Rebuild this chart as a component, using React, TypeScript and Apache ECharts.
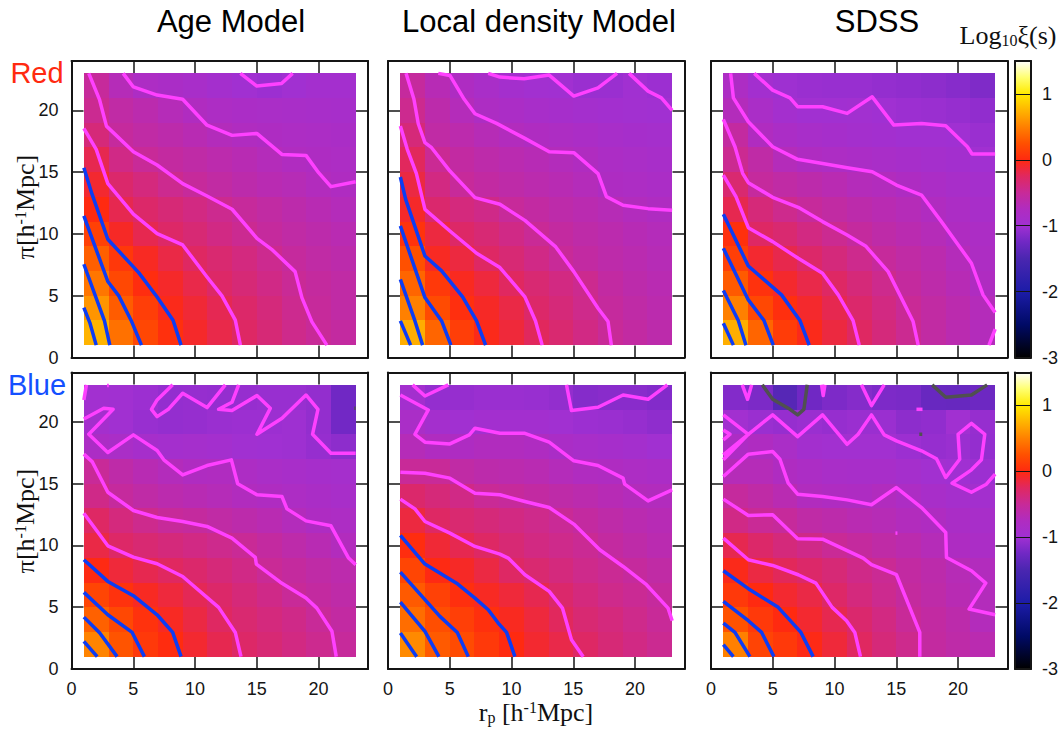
import React, { useEffect, useRef } from "react";
import * as echarts from "echarts";

type Pt = [number, number];

const axisTicks = [0, 5, 10, 15, 20];
const barTicks = [-3, -2, -1, 0, 1];
const panelTitles = ["Age Model", "Local density Model", "SDSS"];
const rowLabels = ["Red", "Blue"];

// Estimated log10 xi per 2x2 cell; rows run from pi=1-3 upward, columns from rp=1-3 rightward.
const ageRedCells = [
  [0.75, 0.42, 0.19, 0.04, -0.08, -0.18, -0.27, -0.35, -0.44, -0.5, -0.55],
  [0.6, 0.31, 0.13, -0.03, -0.12, -0.21, -0.29, -0.37, -0.46, -0.52, -0.58],
  [0.45, 0.2, 0.02, -0.08, -0.18, -0.28, -0.35, -0.42, -0.49, -0.54, -0.58],
  [0.33, 0.09, -0.06, -0.17, -0.26, -0.32, -0.39, -0.46, -0.53, -0.58, -0.62],
  [0.15, -0.07, -0.2, -0.28, -0.34, -0.41, -0.47, -0.53, -0.58, -0.62, -0.66],
  [0, -0.2, -0.29, -0.35, -0.4, -0.46, -0.52, -0.57, -0.62, -0.67, -0.71],
  [-0.1, -0.3, -0.38, -0.46, -0.52, -0.57, -0.62, -0.66, -0.69, -0.73, -0.76],
  [-0.2, -0.42, -0.5, -0.55, -0.59, -0.63, -0.67, -0.71, -0.75, -0.78, -0.8],
  [-0.36, -0.53, -0.58, -0.62, -0.67, -0.72, -0.75, -0.78, -0.8, -0.82, -0.84],
  [-0.47, -0.58, -0.64, -0.7, -0.75, -0.8, -0.83, -0.85, -0.86, -0.87, -0.89],
  [-0.52, -0.7, -0.8, -0.84, -0.87, -0.93, -0.98, -1.02, -0.98, -0.94, -0.94],
];
const densityRedCells = [
  [0.72, 0.36, 0.13, -0.03, -0.13, -0.24, -0.32, -0.41, -0.5, -0.56, -0.62],
  [0.5, 0.22, 0.03, -0.07, -0.17, -0.29, -0.36, -0.44, -0.53, -0.59, -0.64],
  [0.36, 0.1, -0.05, -0.14, -0.25, -0.33, -0.4, -0.46, -0.56, -0.62, -0.66],
  [0.25, -0.06, -0.15, -0.27, -0.34, -0.42, -0.5, -0.56, -0.61, -0.65, -0.69],
  [0.06, -0.15, -0.28, -0.34, -0.42, -0.49, -0.55, -0.6, -0.64, -0.68, -0.71],
  [-0.08, -0.31, -0.38, -0.43, -0.51, -0.56, -0.61, -0.65, -0.69, -0.73, -0.76],
  [-0.16, -0.4, -0.51, -0.56, -0.6, -0.64, -0.67, -0.71, -0.78, -0.8, -0.83],
  [-0.24, -0.48, -0.56, -0.61, -0.65, -0.68, -0.72, -0.75, -0.82, -0.85, -0.87],
  [-0.36, -0.58, -0.63, -0.69, -0.73, -0.76, -0.79, -0.83, -0.87, -0.9, -0.92],
  [-0.46, -0.62, -0.71, -0.79, -0.83, -0.87, -0.9, -0.93, -0.96, -0.97, -0.99],
  [-0.53, -0.68, -0.78, -0.86, -0.93, -0.97, -0.98, -1.03, -1.03, -0.98, -1.02],
];
const sdssRedCells = [
  [0.72, 0.36, 0.12, -0.03, -0.15, -0.26, -0.37, -0.47, -0.57, -0.65, -0.72],
  [0.5, 0.2, 0.03, -0.09, -0.2, -0.3, -0.4, -0.49, -0.57, -0.64, -0.71],
  [0.3, 0.05, -0.09, -0.18, -0.27, -0.36, -0.45, -0.54, -0.61, -0.68, -0.76],
  [0.14, -0.1, -0.19, -0.29, -0.37, -0.45, -0.52, -0.58, -0.64, -0.71, -0.79],
  [0.04, -0.27, -0.32, -0.4, -0.47, -0.54, -0.6, -0.65, -0.7, -0.76, -0.82],
  [-0.2, -0.36, -0.45, -0.52, -0.57, -0.62, -0.66, -0.7, -0.75, -0.82, -0.87],
  [-0.32, -0.53, -0.58, -0.62, -0.66, -0.71, -0.73, -0.78, -0.83, -0.88, -0.92],
  [-0.47, -0.59, -0.71, -0.77, -0.8, -0.83, -0.86, -0.89, -0.92, -0.95, -0.98],
  [-0.55, -0.75, -0.83, -0.87, -0.9, -0.93, -0.96, -0.98, -0.98, -1, -1.03],
  [-0.72, -0.85, -0.94, -0.98, -0.99, -0.97, -1, -1.02, -1.03, -1.05, -1.08],
  [-0.8, -0.96, -1.01, -1.03, -1.04, -1.04, -1.06, -1.08, -1.1, -1.13, -1.17],
];
const ageBlueCells = [
  [0.52, 0.27, 0.1, 0.01, -0.1, -0.2, -0.28, -0.34, -0.4, -0.46, -0.52],
  [0.34, 0.2, 0.05, -0.06, -0.16, -0.26, -0.32, -0.38, -0.43, -0.5, -0.56],
  [0.18, 0.05, -0.06, -0.14, -0.22, -0.29, -0.36, -0.43, -0.5, -0.55, -0.6],
  [-0.01, -0.13, -0.2, -0.25, -0.3, -0.36, -0.42, -0.49, -0.54, -0.59, -0.63],
  [-0.17, -0.28, -0.33, -0.37, -0.41, -0.45, -0.49, -0.55, -0.61, -0.67, -0.73],
  [-0.27, -0.38, -0.45, -0.51, -0.54, -0.58, -0.62, -0.66, -0.72, -0.78, -0.8],
  [-0.43, -0.53, -0.59, -0.64, -0.67, -0.7, -0.74, -0.76, -0.8, -0.84, -0.87],
  [-0.5, -0.6, -0.67, -0.72, -0.76, -0.75, -0.8, -0.85, -0.88, -0.9, -0.92],
  [-0.82, -0.85, -0.9, -0.93, -0.92, -0.94, -0.98, -1, -1.01, -1.05, -1.1],
  [-0.93, -0.98, -1.04, -1.06, -1.05, -1.03, -1.02, -1.02, -1.01, -1.07, -1.24],
  [-0.97, -0.99, -1.02, -1.06, -1.05, -1.06, -1.05, -1.04, -1.04, -1.07, -1.25],
];
const densityBlueCells = [
  [0.55, 0.3, 0.22, 0.1, 0, -0.1, -0.18, -0.27, -0.35, -0.41, -0.47],
  [0.4, 0.24, 0.14, 0.04, -0.05, -0.14, -0.24, -0.33, -0.38, -0.44, -0.5],
  [0.3, 0.15, 0.03, -0.06, -0.13, -0.2, -0.3, -0.38, -0.44, -0.48, -0.53],
  [0.18, -0.01, -0.07, -0.16, -0.27, -0.32, -0.38, -0.44, -0.48, -0.53, -0.58],
  [0.02, -0.12, -0.2, -0.27, -0.34, -0.4, -0.44, -0.48, -0.55, -0.6, -0.65],
  [-0.15, -0.27, -0.32, -0.36, -0.4, -0.44, -0.49, -0.55, -0.6, -0.65, -0.68],
  [-0.3, -0.36, -0.42, -0.49, -0.52, -0.56, -0.6, -0.64, -0.68, -0.72, -0.73],
  [-0.5, -0.5, -0.58, -0.62, -0.64, -0.66, -0.71, -0.75, -0.76, -0.8, -0.83],
  [-0.7, -0.75, -0.78, -0.74, -0.74, -0.76, -0.84, -0.88, -0.9, -0.93, -0.98],
  [-0.85, -0.93, -0.98, -0.96, -0.96, -0.96, -0.98, -1.02, -1.03, -1.05, -1.09],
  [-0.95, -1.06, -1.05, -1.03, -1.03, -1.04, -1.07, -1.14, -1.12, -1.12, -1.15],
];
const sdssBlueCells = [
  [0.5, 0.17, 0.1, -0.02, -0.13, -0.25, -0.36, -0.45, -0.55, -0.6, -0.65],
  [0.26, 0.1, 0, -0.1, -0.2, -0.31, -0.4, -0.5, -0.56, -0.62, -0.72],
  [0.1, 0, -0.1, -0.17, -0.28, -0.38, -0.46, -0.54, -0.6, -0.67, -0.72],
  [-0.03, -0.16, -0.23, -0.29, -0.35, -0.43, -0.48, -0.56, -0.62, -0.69, -0.73],
  [-0.2, -0.29, -0.37, -0.43, -0.49, -0.54, -0.59, -0.64, -0.7, -0.78, -0.83],
  [-0.42, -0.49, -0.52, -0.59, -0.62, -0.66, -0.69, -0.73, -0.77, -0.84, -0.88],
  [-0.53, -0.59, -0.66, -0.74, -0.76, -0.78, -0.74, -0.8, -0.88, -0.92, -0.95],
  [-0.7, -0.7, -0.76, -0.82, -0.86, -0.88, -0.87, -0.92, -0.97, -1, -1.02],
  [-0.8, -0.77, -0.85, -0.95, -0.97, -0.97, -0.97, -1.02, -1.05, -1.03, -1.06],
  [-0.97, -1.03, -1.05, -1.03, -1.05, -1.03, -1.03, -1.1, -1.08, -0.98, -1.05],
  [-1.15, -1.19, -1.42, -1.25, -1.18, -1.14, -1.18, -1.2, -1.3, -1.31, -1.27],
];

// Contour traces.
const ageRedBlue: Pt[][] = [
  [[1, 15.36], [1.67, 13.2], [2.94, 9.57], [5.44, 6.87], [6.93, 4.9], [8.22, 3.02], [8.87, 1]],
  [[1, 11.46], [2.94, 6.15], [3.83, 4.99], [4.82, 3.02], [5.66, 1]],
  [[1, 7.55], [2.67, 2.96], [3.1, 1]],
  [[1, 4.04], [1.48, 2.83], [2, 1]],
];
const ageRedPink: Pt[][] = [
  [[13.67, 23], [15, 21.97], [17, 22.18], [17.9, 23]],
  [[4.18, 23], [5.01, 21.9], [6.93, 21.24], [9, 20.9], [10.97, 18.8], [13, 17.98], [15, 18.14], [17.03, 16.44], [18.98, 16.36], [20, 14.96], [21, 13.83], [23, 14.23]],
  [[1.4, 23], [2.26, 20.9], [2.83, 18.73], [5.01, 16.66], [6.93, 15.58], [9, 14.07], [10.97, 13.07], [13, 12], [15.01, 9.65], [16.2, 8.76], [18.1, 6.95], [18.65, 4.85], [19.46, 2.88], [20.67, 1]],
  [[1, 18.54], [2, 16.85], [2.94, 14.07], [5.01, 11.6], [6.93, 10.03], [9, 9.11], [10.97, 6.52], [12.18, 4.99], [13.26, 3.02], [13.67, 1]],
];
const densityRedBlue: Pt[][] = [
  [[1, 14.61], [1.43, 12.8], [2.99, 8.22], [4.34, 7.01], [6.04, 4.91], [7.17, 2.96], [7.9, 1]],
  [[1, 10.65], [2.99, 4.85], [4.34, 2.96], [5.09, 1]],
  [[1, 6.33], [2.18, 2.96], [2.8, 1]],
  [[1, 2.96], [1.83, 1]],
];
const densityRedPink: Pt[][] = [
  [[8.11, 23], [9.06, 22.7], [11.02, 22.56], [13.05, 22.86], [15.04, 21.16], [17, 21.83], [18.54, 23]],
  [[19.51, 23], [21.05, 21.56], [22.13, 21.02], [23, 20]],
  [[4.07, 23], [5.01, 22.83], [6.17, 20.9], [7.04, 19.73], [8.79, 18.95], [11.08, 17.74], [13.05, 16.66], [15.04, 16.58], [17, 14.88], [17.68, 13.02], [19.03, 12.32], [21.05, 12.05], [23, 11.91]],
  [[1.46, 23], [2.1, 20.9], [2.45, 18.92], [2.99, 17.39], [3.53, 16.98], [5.01, 15.09], [7.04, 12.94], [9.06, 12.4], [11.08, 11.1], [13.58, 8.95], [15.04, 6.95], [17, 3.99], [17.81, 2.91], [18.08, 1]],
  [[1, 18.73], [1.56, 16.85], [2.3, 14.88], [2.99, 11.99], [5.01, 10.24], [7.17, 8.44], [9.06, 7.28], [11.08, 4.91], [11.94, 2.96], [12.48, 1]],
];
const sdssRedBlue: Pt[][] = [
  [[1, 11.59], [3.02, 7.41], [5.71, 5.07], [7.2, 2.99], [7.95, 1]],
  [[1, 8.84], [3.02, 4.66], [4.29, 2.99], [5.04, 1]],
  [[1, 5.42], [2.21, 2.99], [2.83, 1]],
  [[1, 2.78], [1.81, 1]],
];
const sdssRedPink: Pt[][] = [
  [[3.5, 23], [4.99, 21.64], [6.39, 21.02], [7.01, 20.3], [9.03, 20.3], [11.02, 19.76], [13.05, 21.1], [14.8, 18.81], [17.04, 18.95], [19, 18.76], [20.75, 17.06], [21.13, 16.47], [23, 16.47]],
  [[1.59, 23], [1.81, 21.02], [3.02, 19.08], [4.99, 17.06], [7.01, 16.04], [9.03, 15.71], [11.02, 15.36], [13.05, 15.04], [15.01, 13.96], [17.04, 13.15], [18.65, 11], [21.08, 7.63], [22.02, 5.07], [23, 3.64]],
  [[23, 2.29], [22.5, 1]],
  [[1, 19.27], [1.94, 17.06], [2.56, 14.91], [3.02, 14.15], [4.99, 12.97], [7.06, 12.16], [9.03, 11], [11.02, 9.92], [12.51, 9.03], [14.34, 6.95], [16.36, 2.91], [16.77, 1]],
  [[1, 14.77], [2.02, 13.02], [3.02, 10.51], [4.99, 9.38], [7.06, 8.03], [9.03, 6.82], [10.3, 5.07], [11.5, 2.99], [12, 1]],
];
const ageBlueBlue: Pt[][] = [
  [[1, 8.84], [2.94, 7.09], [5.01, 5.93], [6.93, 4.39], [8.19, 2.96], [8.87, 1]],
  [[1, 6.2], [2.94, 4.39], [4.91, 2.96], [5.9, 1]],
  [[1, 4.2], [2.29, 2.91], [3.69, 1]],
  [[1, 2.24], [2.08, 1]],
];
const ageBluePink: Pt[][] = [
  [[1.21, 23], [1, 21.78]],
  [[2.88, 22.95], [3.02, 22.95]],
  [[1, 20.24], [2.61, 21.1], [3.37, 21.02], [1.4, 19], [2.94, 17.52], [5.01, 18.95], [6.93, 17.68], [7.47, 16.93], [9, 15.71], [10.97, 16.47], [12.94, 16.93], [13.45, 14.99], [15.01, 14.1], [17.04, 13.96], [17.44, 12.96], [18.98, 11.99], [21, 11.59], [22.43, 8.98], [23, 8.44]],
  [[8.19, 23], [6.93, 21.78], [6.47, 21.02], [6.93, 20.43], [7.87, 21.05], [9, 22.32], [10.97, 21.16], [12.45, 23]],
  [[13.53, 23], [12.99, 21.59], [11.91, 21.02], [12.99, 20.92], [15.01, 22.13], [16.09, 21.1], [15.01, 19], [17.04, 20.3], [18.98, 22.18], [19.95, 21.02], [19.51, 19], [21, 17.47], [23, 17.47]],
  [[1, 17.39], [1.67, 16.79], [2.94, 14.31], [5.01, 12.83], [6.93, 12.26], [9, 11.94], [10.97, 11.54], [12.99, 10.59], [14.88, 9.03], [14.96, 8.49], [16.9, 7.03], [18.98, 5.74], [19.86, 4.93], [21.08, 3.05], [21.43, 1]],
  [[1, 12.61], [2.94, 9.97], [5.01, 9.06], [6.93, 8.52], [9, 7.49], [11.91, 4.99], [13.26, 2.96], [13.72, 1]],
];
const ageBlueGray: Pt[][] = [[[22.88, 21.1], [23, 21.1]]];
const densityBlueBlue: Pt[][] = [
  [[1, 10.81], [2.99, 8.49], [5.55, 6.95], [7.04, 5.74], [8.11, 4.8], [8.92, 3.72], [9.6, 2.96], [10.27, 1]],
  [[1, 7.84], [2.99, 5.61], [4.2, 4.26], [5.61, 2.96], [6.5, 1]],
  [[1, 5.42], [2.99, 3.05], [4.12, 1]],
  [[1, 2.91], [2.32, 1]],
];
const densityBluePink: Pt[][] = [
  [[1.99, 23], [2.99, 22.1], [4.88, 23]],
  [[1, 22.18], [3.26, 20.97], [2.18, 19], [2.99, 18.36], [5.01, 18.22], [6.58, 18.95], [7.04, 19.49], [9.06, 19.08], [11.08, 19.08], [13.05, 18.36], [15.04, 16.85], [17, 16.47], [19.03, 15.45], [19.16, 14.96], [21.05, 13.61], [23, 14.5]],
  [[14.45, 23], [14.85, 20.92], [17, 21.19], [19.03, 22.18], [21.05, 21.83], [22.61, 23]],
  [[1, 15.93], [2.99, 15.85], [5.01, 15.45], [7.04, 14.23], [9.06, 14.1], [11.08, 13.56], [13.05, 13.07], [15.04, 11.73], [17.14, 9.65], [19.03, 8.3], [20.92, 6.82], [22.67, 4.93], [23, 3.91]],
  [[1, 13.75], [2.18, 12.96], [2.99, 11.94], [5.01, 11], [7.04, 9.92], [9.06, 9.3], [9.73, 8.98], [11.08, 7.63], [13.05, 6.28], [14.12, 4.93], [14.85, 2.37], [15.8, 1]],
];
const sdssBlueBlue: Pt[][] = [
  [[1, 7.95], [3.02, 6.5], [5.44, 4.99], [7.28, 2.96], [8.27, 1]],
  [[1, 5.47], [3.02, 3.91], [4.1, 2.96], [5.09, 1]],
  [[1, 3.72], [1.94, 2.96], [3.15, 1]],
  [[1, 1.97], [1.81, 1]],
];
const sdssBluePink: Pt[][] = [
  [[2.53, 23], [2.96, 21.83], [3.29, 23]],
  [[8.95, 23], [9.08, 22.13], [9.22, 23]],
  [[12.18, 23], [12.99, 21.32], [14.02, 23]],
  [[16.63, 21.02], [17.12, 21.02]],
  [[14.93, 11], [15.09, 11]],
  [[1, 20.57], [3.02, 19], [4.99, 20.57], [7.01, 18.81], [9.03, 20.57], [11.02, 18.19], [11.91, 19], [12.99, 20.57], [14.02, 18.95], [15.01, 18.46], [17.04, 17.66], [18.25, 17.02], [19, 15.5], [20.13, 16.98], [20, 19], [21.08, 19.89], [22.16, 19], [21.89, 16.93], [21.08, 16.12], [19.51, 15.04], [21.08, 14.31], [22.29, 14.96], [23, 15.77]],
  [[1, 19.35], [1.54, 19], [1, 18.54]],
  [[1, 17.33], [3.02, 19], [1, 16.93]],
  [[1, 15.58], [3.02, 17.39], [4.99, 17.6], [5.58, 16.98], [6.25, 15.04], [7.01, 14.15], [9.03, 13.96], [11.02, 13.69], [12.99, 13.29], [15.01, 14.69], [17.04, 13.07], [19, 11.05], [19.06, 9.03], [21.08, 7.95], [22.24, 6.95], [20.89, 4.85], [23, 4.39]],
  [[1, 13.75], [3.02, 12.43], [4.99, 12.48], [7.01, 10.54], [9.03, 10.51], [12.32, 8.98], [12.99, 8.44], [15.01, 7.63], [16.9, 2.96], [16.9, 1]],
  [[1, 10.59], [3.02, 8.84], [4.99, 8.38], [7.06, 7.63], [8.49, 6.95], [9.81, 4.99], [10.97, 3.91], [11.64, 2.96], [12.1, 1]],
];
const sdssBlueGray: Pt[][] = [
  [[4.15, 23], [4.99, 21.83], [6.39, 21.02], [7.01, 20.57], [7.52, 21.02], [7.79, 23]],
  [[17.9, 23], [19, 22], [21.08, 22.18], [22.35, 23]],
  [[16.86, 19], [17.1, 19]],
];

// Colour scale: value and colour pairs.
const paletteValues = [-3, -2.5, -2, -1.5, -1.25, -1, -0.75, -0.5, -0.25, 0, 0.25, 0.5, 0.75, 1, 1.25, 1.5];
const paletteColors = ["#000000", "#000a66", "#1c1ca8", "#4a26b0", "#7028c4", "#a030d2", "#b02cc0", "#c82a98", "#e02860", "#ff2a10", "#ff5000", "#ff8000", "#ffb400", "#ffea00", "#ffff70", "#ffffff"];

const FONT = "Liberation Sans";
const SERIF = "Liberation Serif";
const INK = "#151515";
const PINK = "#ff40ff";
const BLUE = "#0c3cf4";
const GRAY = "#505050";

function colorOf(v: number): string {
  const last = paletteValues.length - 1;
  if (v <= paletteValues[0]) return paletteColors[0];
  if (v >= paletteValues[last]) return paletteColors[last];
  let i = 0;
  while (v > paletteValues[i + 1]) i++;
  const t = (v - paletteValues[i]) / (paletteValues[i + 1] - paletteValues[i]);
  return echarts.color.lerp(t, [paletteColors[i], paletteColors[i + 1]]) as string;
}

const panels = [
  { cells: ageRedCells, blue: ageRedBlue, pink: ageRedPink, gray: [] as Pt[][], left: 71.5, top: 61 },
  { cells: densityRedCells, blue: densityRedBlue, pink: densityRedPink, gray: [] as Pt[][], left: 388, top: 61 },
  { cells: sdssRedCells, blue: sdssRedBlue, pink: sdssRedPink, gray: [] as Pt[][], left: 711, top: 61 },
  { cells: ageBlueCells, blue: ageBlueBlue, pink: ageBluePink, gray: ageBlueGray, left: 71.5, top: 372.5 },
  { cells: densityBlueCells, blue: densityBlueBlue, pink: densityBluePink, gray: [] as Pt[][], left: 388, top: 372.5 },
  { cells: sdssBlueCells, blue: sdssBlueBlue, pink: sdssBluePink, gray: sdssBlueGray, left: 711, top: 372.5 },
];
const barTops = [61, 372.5];

function buildOption() {
  const grid: any[] = [];
  const xAxis: any[] = [];
  const yAxis: any[] = [];
  const series: any[] = [];
  const lineAxis = { show: true, onZero: false, lineStyle: { color: INK, width: 2 } };
  const tick = (values: number[], length = 12, width = 1.5) => ({
    show: true, inside: true, length, customValues: values, lineStyle: { color: INK, width },
  });
  const label = (values: number[], show: boolean, margin: number) => ({
    show, customValues: values, margin, fontFamily: FONT, fontSize: 18, color: INK,
  });

  panels.forEach((p, i) => {
    grid.push({ left: p.left, top: p.top, width: 296.5, height: 296.5, containLabel: false });
    const common = { type: "value", min: 0, max: 24, interval: 5, gridIndex: i, splitLine: { show: false }, axisLine: lineAxis, axisTick: tick(axisTicks), z: 5 };
    xAxis.push({ ...common, position: "bottom", axisLabel: label(axisTicks, i >= 3, 11) });
    xAxis.push({ ...common, position: "top", axisLabel: { show: false } });
    yAxis.push({ ...common, position: "left", axisLabel: label(axisTicks, i % 3 === 0, 13) });
    yAxis.push({ ...common, position: "right", axisLabel: { show: false } });

    const cellData: number[][] = [];
    p.cells.forEach((row, r) => row.forEach((v, c) => cellData.push([1 + 2 * c, 1 + 2 * r, v])));
    series.push({
      type: "custom",
      xAxisIndex: 2 * i,
      yAxisIndex: 2 * i,
      silent: true,
      z: 2,
      data: cellData,
      encode: { x: 0, y: 1 },
      renderItem: (_: any, api: any) => {
        const a = api.coord([api.value(0), api.value(1)]);
        const b = api.coord([api.value(0) + 2, api.value(1) + 2]);
        const x0 = Math.round(a[0]);
        const x1 = Math.round(b[0]);
        const y1 = Math.round(a[1]);
        const y0 = Math.round(b[1]);
        return { type: "rect", shape: { x: x0, y: y0, width: x1 - x0, height: y1 - y0 }, style: { fill: colorOf(api.value(2)) } };
      },
    });
    const addLines = (lines: Pt[][], color: string) =>
      lines.forEach((pts) =>
        series.push({
          type: "line",
          xAxisIndex: 2 * i,
          yAxisIndex: 2 * i,
          data: pts,
          symbol: "none",
          silent: true,
          z: 3,
          clip: false,
          lineStyle: { color, width: 3.5, join: "round" },
        }),
      );
    addLines(p.pink, PINK);
    addLines(p.gray, GRAY);
    addLines(p.blue, BLUE);
  });

  barTops.forEach((top) => {
    const gi = grid.length;
    grid.push({ left: 1015, top, width: 16, height: 296.5 });
    const xCommon = { type: "value", min: 0, max: 1, gridIndex: gi, splitLine: { show: false }, axisLine: lineAxis, axisTick: { show: false }, axisLabel: { show: false }, z: 5 };
    xAxis.push({ ...xCommon, position: "bottom" });
    xAxis.push({ ...xCommon, position: "top" });
    const yCommon = { type: "value", min: -3, max: 1.5, interval: 1, gridIndex: gi, splitLine: { show: false }, axisLine: lineAxis, z: 5 };
    yAxis.push({ ...yCommon, position: "right", axisTick: tick(barTicks, 16, 1), axisLabel: label(barTicks, true, 11) });
    yAxis.push({ ...yCommon, position: "left", axisTick: { show: false }, axisLabel: { show: false } });
    const stops = paletteValues.map((v, k) => ({ offset: (v + 3) / 4.5, color: paletteColors[k] }));
    series.push({
      type: "custom",
      xAxisIndex: xAxis.length - 2,
      yAxisIndex: yAxis.length - 2,
      silent: true,
      z: 2,
      data: [[0, -3, 1, 1.5]],
      encode: { x: [0, 2], y: [1, 3] },
      renderItem: (_: any, api: any) => {
        const a = api.coord([api.value(0), api.value(1)]);
        const c = api.coord([api.value(2), api.value(3)]);
        return {
          type: "rect",
          shape: { x: a[0], y: c[1], width: c[0] - a[0], height: a[1] - c[1] },
          style: { fill: new echarts.graphic.LinearGradient(0, 1, 0, 0, stops) },
        };
      },
    });
  });

  const titleCentres = [231, 539, 877];
  const graphic: any[] = [];
  panelTitles.forEach((t, i) =>
    graphic.push({ type: "text", silent: true, style: { text: t, x: titleCentres[i], y: 21, font: `31px '${FONT}'`, fill: "#000", textAlign: "center", textVerticalAlign: "middle" } }),
  );
  graphic.push({ type: "text", silent: true, style: { text: rowLabels[0], x: 37, y: 73, font: `29px '${FONT}'`, fill: "#ff2a10", textAlign: "center", textVerticalAlign: "middle" } });
  graphic.push({ type: "text", silent: true, style: { text: rowLabels[1], x: 37, y: 385, font: `29px '${FONT}'`, fill: "#1450ff", textAlign: "center", textVerticalAlign: "middle" } });

  const serifRich = {
    m: { fontFamily: SERIF, fontSize: 26, lineHeight: 26, fill: "#111", color: "#111" },
    sup: { fontFamily: SERIF, fontSize: 16, lineHeight: 16, verticalAlign: "top", fill: "#111", color: "#111" },
    sub: { fontFamily: SERIF, fontSize: 16, lineHeight: 16, verticalAlign: "bottom", fill: "#111", color: "#111" },
  };
  [207, 521].forEach((cy) =>
    graphic.push({
      type: "text",
      silent: true,
      x: 25,
      y: cy,
      rotation: Math.PI / 2,
      style: { text: "{m|π[h}{sup|-1}{m|Mpc]}", rich: serifRich, textAlign: "center", textVerticalAlign: "middle" },
    }),
  );
  graphic.push({
    type: "text",
    silent: true,
    style: { text: "{m|r}{sub|p}{m| [h}{sup|-1}{m|Mpc]}", rich: serifRich, x: 536, y: 712, textAlign: "center", textVerticalAlign: "middle" },
  });
  graphic.push({
    type: "text",
    silent: true,
    style: { text: "{m|Log}{sub|10}{m|ξ(s)}", rich: serifRich, x: 1008, y: 35, textAlign: "center", textVerticalAlign: "middle" },
  });

  return { animation: false, backgroundColor: "#ffffff", grid, xAxis, yAxis, series, graphic };
}

export default function App() {
  const ref = useRef<HTMLDivElement>(null);
  useEffect(() => {
    document.body.style.margin = "0";
    const chart = echarts.init(ref.current!, undefined, { renderer: "svg" });
    chart.setOption(buildOption() as any);
    return () => chart.dispose();
  }, []);
  return <div ref={ref} style={{ width: 1063, height: 730 }} />;
}
